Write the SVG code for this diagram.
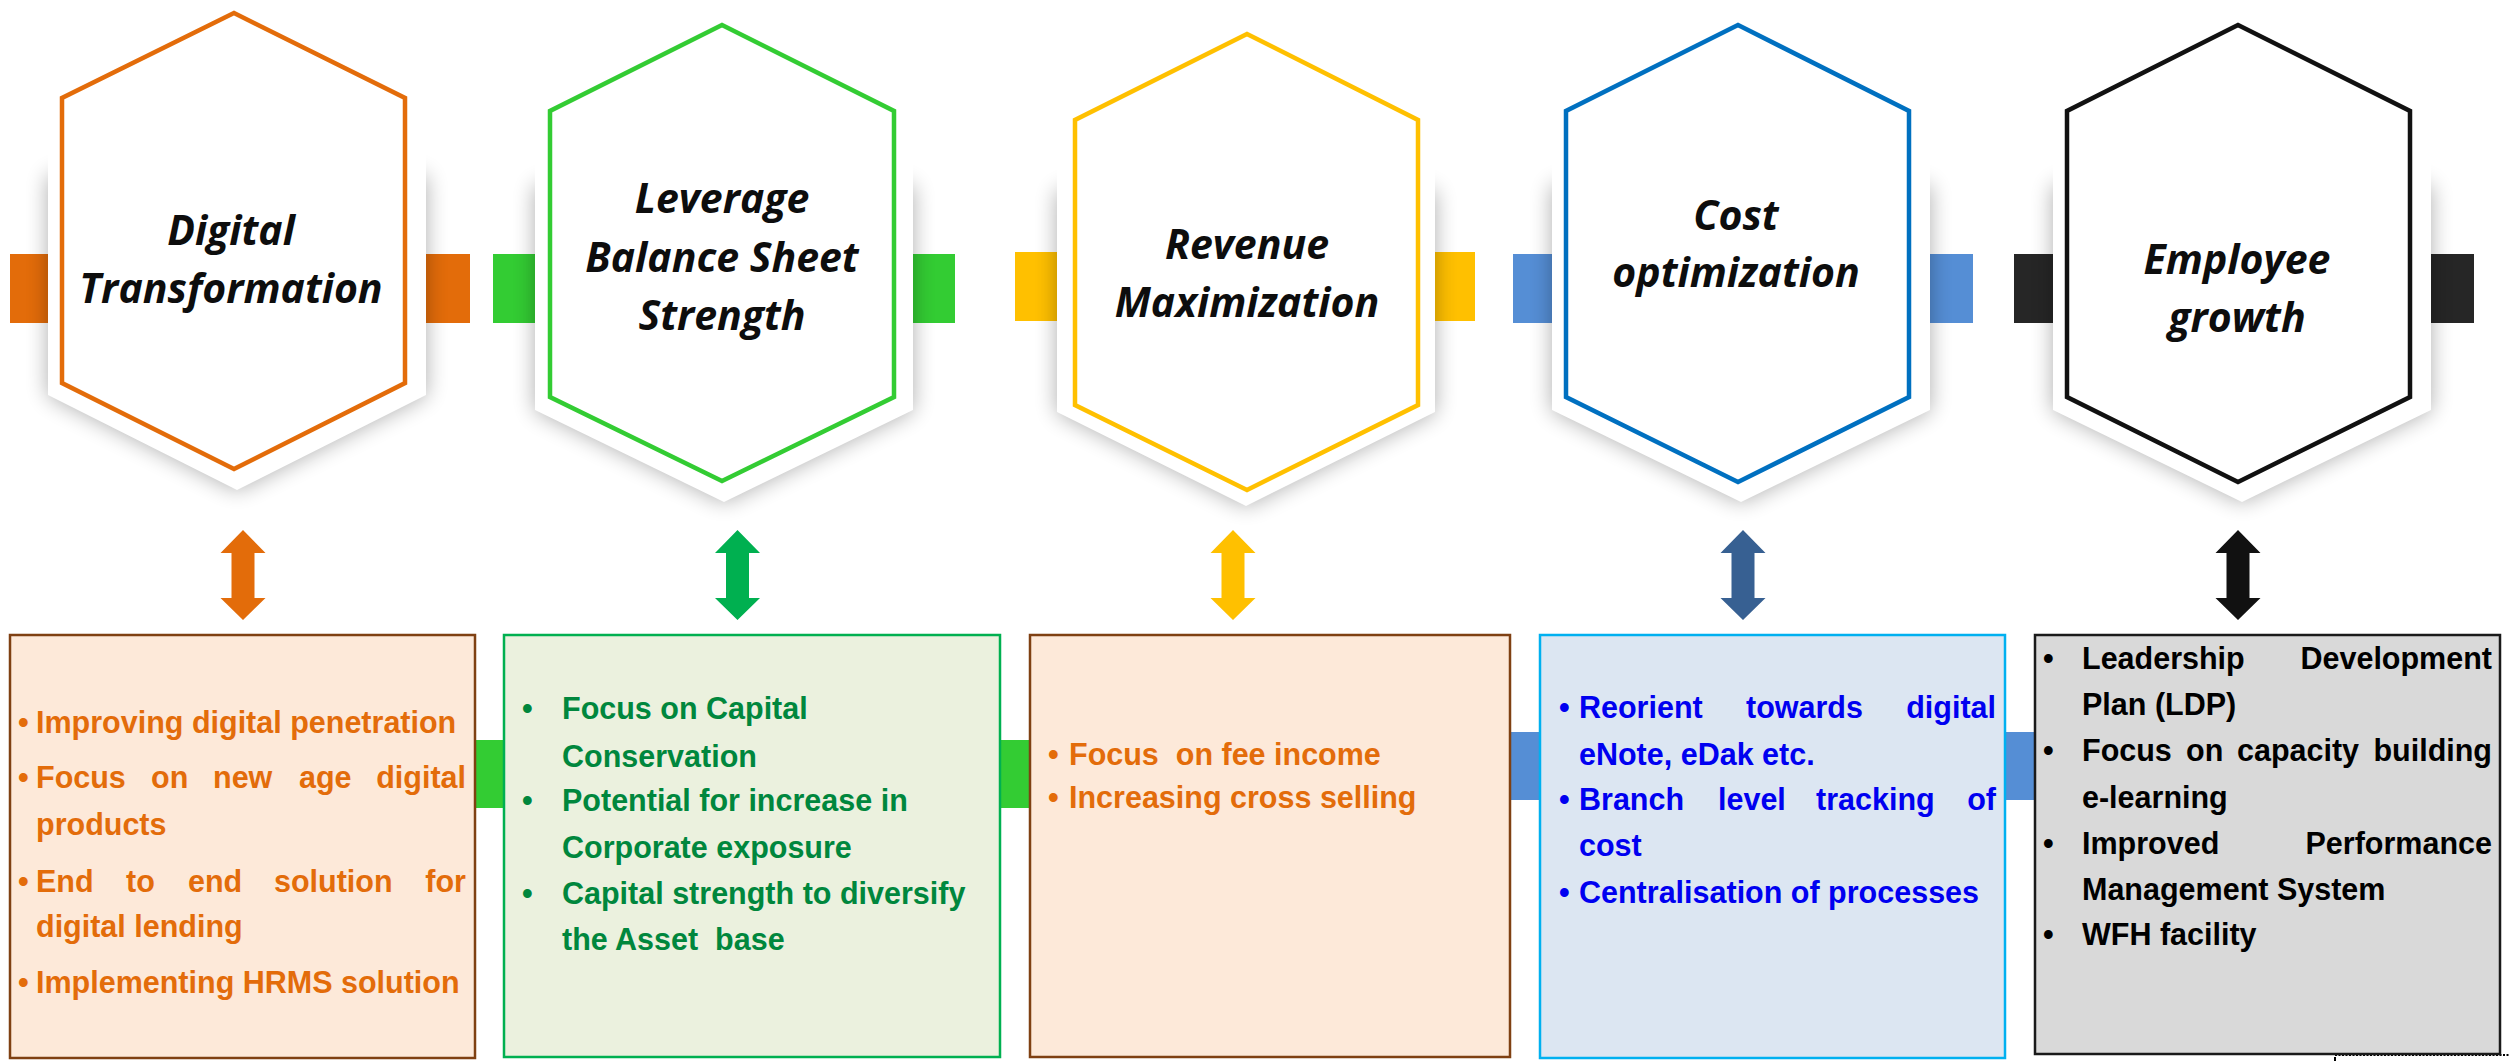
<svg xmlns="http://www.w3.org/2000/svg" width="2509" height="1061" viewBox="0 0 2509 1061">
<defs>
<filter id="sh" x="-20%" y="-20%" width="140%" height="140%">
<feGaussianBlur stdDeviation="11"/>
</filter>
</defs>
<style>
.shadow{fill:#000;opacity:.32;filter:url(#sh)}
.bg{fill:#fff}
.hex{fill:#fff;stroke-width:4.5;stroke-linejoin:miter}
.title{font-family:"Open Sans","Noto Sans",sans-serif;font-weight:700;font-style:italic;font-size:41px;fill:#0d0d0d;text-anchor:middle}
.bt{font-family:"Liberation Sans",Arial,sans-serif;font-weight:700;font-size:30.5px}
.end{text-anchor:end}
.box{stroke-width:2.5}
</style>
<rect width="2509" height="1061" fill="#fff"/>
<g id="connectors">
<rect x="10" y="254" width="38" height="69" fill="#E36C0A"/>
<rect x="426" y="254" width="44" height="69" fill="#E36C0A"/>
<rect x="493" y="254" width="42" height="69" fill="#33CC33"/>
<rect x="913" y="254" width="42" height="69" fill="#33CC33"/>
<rect x="1015" y="252" width="42" height="69" fill="#FFC000"/>
<rect x="1435" y="252" width="40" height="69" fill="#FFC000"/>
<rect x="1513" y="254" width="39" height="69" fill="#558ED5"/>
<rect x="1930" y="254" width="43" height="69" fill="#558ED5"/>
<rect x="2014" y="254" width="39" height="69" fill="#262626"/>
<rect x="2431" y="254" width="43" height="69" fill="#262626"/>
<rect x="470" y="740" width="565" height="68" fill="#33CC33"/>
<rect x="1505" y="732" width="535" height="68" fill="#558ED5"/>
<polygon fill="#E36C0A" points="243,530 265.5,553 254.5,553 254.5,598 265.5,598 243,620 220.5,598 231.5,598 231.5,553 220.5,553"/>
<polygon fill="#00B050" points="737.5,530 760,553 749,553 749,598 760,598 737.5,620 715,598 726,598 726,553 715,553"/>
<polygon fill="#FFC000" points="1233,530 1255.5,553 1244.5,553 1244.5,598 1255.5,598 1233,620 1210.5,598 1221.5,598 1221.5,553 1210.5,553"/>
<polygon fill="#376092" points="1743,530 1765.5,553 1754.5,553 1754.5,598 1765.5,598 1743,620 1720.5,598 1731.5,598 1731.5,553 1720.5,553"/>
<polygon fill="#111111" points="2238,530 2260.5,553 2249.5,553 2249.5,598 2260.5,598 2238,620 2215.5,598 2226.5,598 2226.5,553 2215.5,553"/>
<line x1="2335" y1="1055" x2="2509" y2="1055" stroke="#000" stroke-width="2" stroke-dasharray="2,1.5"/>
<line x1="2335" y1="1057" x2="2335" y2="1061" stroke="#000" stroke-width="2"/>
</g>
<g id="hex-digital">
<polygon class="shadow" points="48,175 426,175 426,395 237,490 48,395"/>
<polygon class="bg" points="237,-8 426,86 426,395 237,490 48,395 48,86"/>
<polygon class="hex" stroke="#E36C0A" points="234,13 405,98 405,383 234,469 62,383 62,98"/>
<text class="title" x="231" y="245">Digital</text>
<text class="title" x="231" y="303">Transformation</text>
</g>
<g id="hex-leverage">
<polygon class="shadow" points="535,185 913,185 913,410 724,502 535,410"/>
<polygon class="bg" points="724,5 913,99 913,410 724,502 535,410 535,99"/>
<polygon class="hex" stroke="#33CC33" points="722,25 894,111 894,397 722,481 550,397 550,111"/>
<text class="title" x="722" y="213">Leverage</text>
<text class="title" x="722" y="272">Balance Sheet</text>
<text class="title" x="722" y="330">Strength</text>
</g>
<g id="hex-revenue">
<polygon class="shadow" points="1057,190 1435,190 1435,412 1246,506 1057,412"/>
<polygon class="bg" points="1246,14 1435,108 1435,412 1246,506 1057,412 1057,108"/>
<polygon class="hex" stroke="#FFC000" points="1247,34 1418,120 1418,405 1247,490 1075,405 1075,120"/>
<text class="title" x="1247" y="259">Revenue</text>
<text class="title" x="1247" y="317">Maximization</text>
</g>
<g id="hex-cost">
<polygon class="shadow" points="1552,185 1930,185 1930,410 1741,502 1552,410"/>
<polygon class="bg" points="1741,5 1930,99 1930,410 1741,502 1552,410 1552,99"/>
<polygon class="hex" stroke="#0070C0" points="1738,25 1909,111 1909,397 1738,482 1566,397 1566,111"/>
<text class="title" x="1736" y="230">Cost</text>
<text class="title" x="1736" y="287">optimization</text>
</g>
<g id="hex-employee">
<polygon class="shadow" points="2053,185 2431,185 2431,410 2242,502 2053,410"/>
<polygon class="bg" points="2242,5 2431,99 2431,410 2242,502 2053,410 2053,99"/>
<polygon class="hex" stroke="#111111" points="2238,25 2410,111 2410,397 2238,482 2067,397 2067,111"/>
<text class="title" x="2237" y="274">Employee</text>
<text class="title" x="2237" y="332">growth</text>
</g>
<g id="box-digital">
<rect class="box" x="10" y="635" width="465" height="423" fill="#FDE9D9" stroke="#7F4012"/>
<g class="bt" fill="#E36C0A">
<text x="18" y="733">•</text><text x="36" y="733">Improving digital penetration</text>
<text x="18" y="788">•</text><text y="788"><tspan x="36">Focus</tspan><tspan x="151">on</tspan><tspan x="213">new</tspan><tspan x="299">age</tspan></text><text class="end" x="466" y="788">digital</text>
<text x="36" y="835">products</text>
<text x="18" y="892">•</text><text y="892"><tspan x="36">End</tspan><tspan x="126">to</tspan><tspan x="188">end</tspan><tspan x="274">solution</tspan></text><text class="end" x="466" y="892">for</text>
<text x="36" y="937">digital lending</text>
<text x="18" y="993">•</text><text x="36" y="993">Implementing HRMS solution</text>
</g>
</g>
<g id="box-leverage">
<rect class="box" x="504" y="635" width="496" height="422" fill="#EBF1DE" stroke="#00B050"/>
<g class="bt" fill="#00873D">
<text x="522" y="719">•</text><text x="562" y="719">Focus on Capital</text>
<text x="562" y="767">Conservation</text>
<text x="522" y="811">•</text><text x="562" y="811">Potential for increase in</text>
<text x="562" y="858">Corporate exposure</text>
<text x="522" y="904">•</text><text x="562" y="904">Capital strength to diversify</text>
<text x="562" y="950" xml:space="preserve">the Asset  base</text>
</g>
</g>
<g id="box-revenue">
<rect class="box" x="1030" y="635" width="480" height="422" fill="#FDE9D9" stroke="#7F4012"/>
<g class="bt" fill="#E36C0A">
<text x="1048" y="765">•</text><text x="1069" y="765" xml:space="preserve">Focus  on fee income</text>
<text x="1048" y="808">•</text><text x="1069" y="808">Increasing cross selling</text>
</g>
</g>
<g id="box-cost">
<rect class="box" x="1540" y="635" width="465" height="423" fill="#DCE6F2" stroke="#00B0F0"/>
<g class="bt" fill="#0000F0">
<text x="1559" y="718">•</text><text y="718"><tspan x="1579">Reorient</tspan><tspan x="1746">towards</tspan></text><text class="end" x="1996" y="718">digital</text>
<text x="1579" y="765">eNote, eDak etc.</text>
<text x="1559" y="810">•</text><text y="810"><tspan x="1579">Branch</tspan><tspan x="1718">level</tspan><tspan x="1816">tracking</tspan></text><text class="end" x="1996" y="810">of</text>
<text x="1579" y="856">cost</text>
<text x="1559" y="903">•</text><text x="1579" y="903">Centralisation of processes</text>
</g>
</g>
<g id="box-employee">
<rect class="box" x="2035" y="635" width="465" height="419" fill="#D9D9D9" stroke="#1a1a1a"/>
<g class="bt" fill="#000">
<text x="2043" y="669">•</text><text x="2082" y="669">Leadership</text><text class="end" x="2492" y="669">Development</text>
<text x="2082" y="715">Plan (LDP)</text>
<text x="2043" y="761">•</text><text y="761"><tspan x="2082">Focus</tspan><tspan x="2186">on</tspan><tspan x="2237">capacity</tspan></text><text class="end" x="2492" y="761">building</text>
<text x="2082" y="808">e-learning</text>
<text x="2043" y="854">•</text><text x="2082" y="854">Improved</text><text class="end" x="2492" y="854">Performance</text>
<text x="2082" y="900">Management System</text>
<text x="2043" y="945">•</text><text x="2082" y="945">WFH facility</text>
</g>
</g>
</svg>
